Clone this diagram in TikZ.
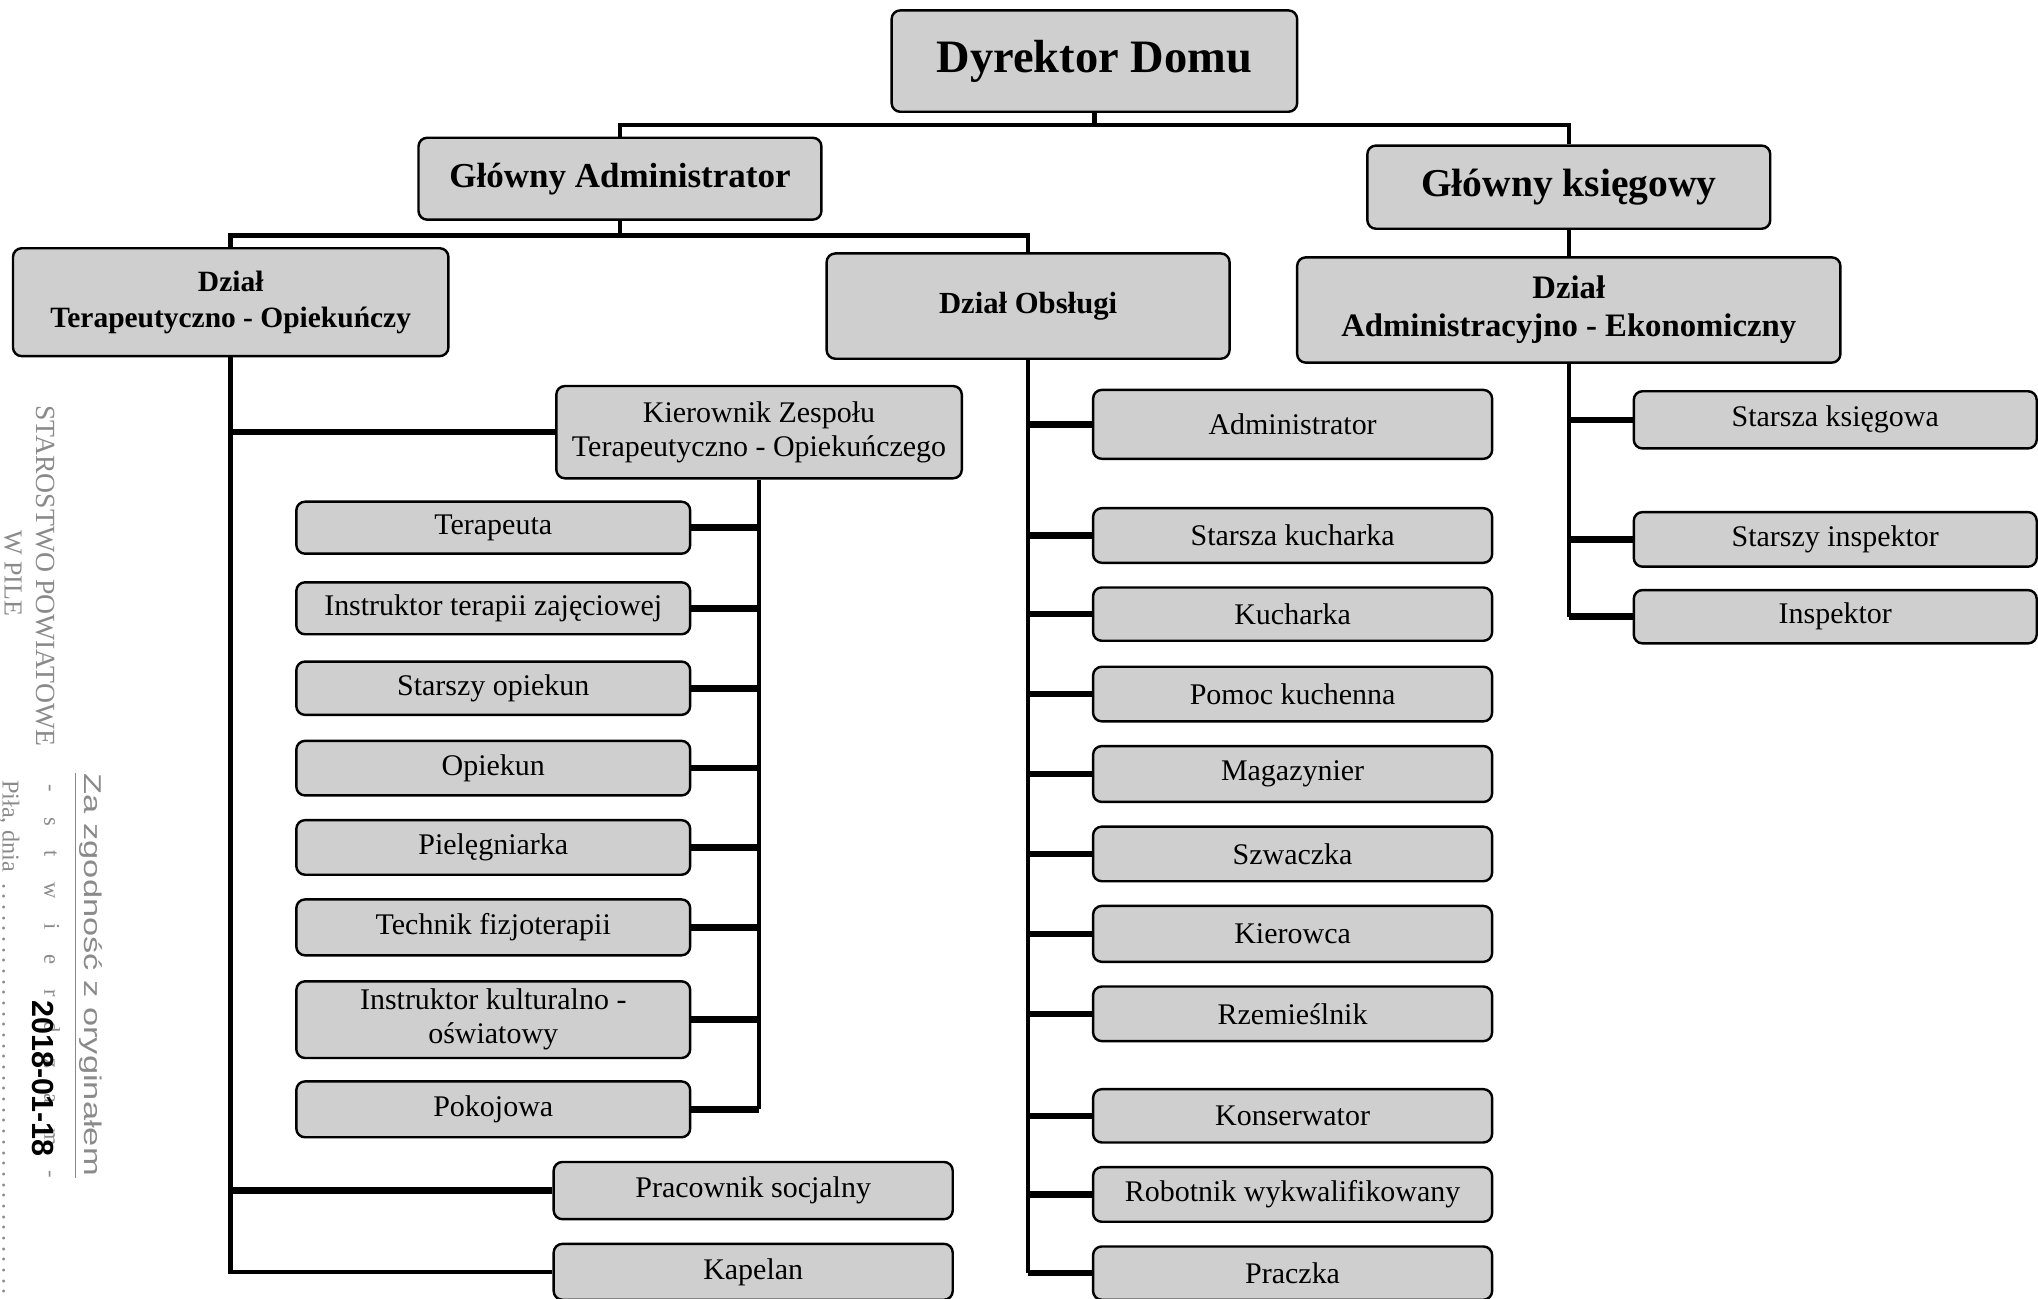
\documentclass[tikz,border=0pt]{standalone}
\usepackage{fontspec}
\setmainfont{Liberation Serif}
\newfontfamily\stampsans{Liberation Sans}
\usepackage{graphicx}
\definecolor{boxgray}{HTML}{CFCFCF}
\definecolor{stampgray}{HTML}{8A8A8A}
\tikzset{
  box/.style={draw=black, line width=1.4pt, rounded corners=5pt, fill=boxgray, align=center, inner sep=0pt},
  wh/.style 2 args={minimum width=#1*0.75pt, minimum height=#2*0.75pt},
  reg/.style={font=\fontsize{17.3}{19.5}\selectfont},
  conn/.style={line width=2.6pt},
  stub/.style={line width=3.8pt},
  stamp/.style={text=stampgray, inner sep=0pt, rotate=-90}
}
\begin{document}
\begin{tikzpicture}[x=0.75pt,y=-0.75pt]
\useasboundingbox (0,0) rectangle (1568,999);

% ---------- top levels ----------
\node[box, wh={312}{78}, font=\fontsize{26.8}{30}\selectfont\bfseries] (dyr) at (842,47) {Dyrektor Domu};
\node[box, wh={310}{63}, font=\fontsize{20.2}{24}\selectfont\bfseries] (ga) at (477,137.5) {Główny Administrator};
\node[box, wh={310}{64}, font=\fontsize{22.8}{26}\selectfont\bfseries] (gk) at (1207,144) {Główny księgowy};

\node[box, wh={335}{83}, font=\fontsize{17}{21}\selectfont\bfseries] (dto) at (177.5,232.5) {Dział\\Terapeutyczno - Opiekuńczy};
\node[box, wh={310}{81}, font=\fontsize{17.7}{21}\selectfont\bfseries] (dob) at (791,235.5) {Dział Obsługi};
\node[box, wh={418}{81}, font=\fontsize{18.9}{22}\selectfont\bfseries] (dae) at (1207,238.5) {Dział\\Administracyjno - Ekonomiczny};

% ---------- left branch ----------
\node[box, reg, wh={312}{71}] (kzt) at (584,332.5) {Kierownik Zespołu\\Terapeutyczno - Opiekuńczego};
\node[box, reg, wh={303}{40}] (ter) at (379.5,406) {Terapeuta};
\node[box, reg, wh={303}{40}] (itz) at (379.5,468) {Instruktor terapii zajęciowej};
\node[box, reg, wh={303}{41}] (sop) at (379.5,529.5) {Starszy opiekun};
\node[box, reg, wh={303}{42}] (opi) at (379.5,591) {Opiekun};
\node[box, reg, wh={303}{42}] (pie) at (379.5,652) {Pielęgniarka};
\node[box, reg, wh={303}{43}] (tec) at (379.5,713.5) {Technik fizjoterapii};
\node[box, reg, wh={303}{59}] (ikk) at (379.5,784.5) {Instruktor kulturalno -\\oświatowy};
\node[box, reg, wh={303}{43}] (pok) at (379.5,853.5) {Pokojowa};
\node[box, reg, wh={307}{44}] (prs) at (579.5,916) {Pracownik socjalny};
\node[box, reg, wh={307}{43}] (kap) at (579.5,978.5) {Kapelan};

% ---------- middle branch ----------
\node[box, reg, wh={307}{53}] (adm) at (994.5,326.5) {Administrator};
\node[box, reg, wh={307}{42}] (skk) at (994.5,412) {Starsza kucharka};
\node[box, reg, wh={307}{41}] (kuc) at (994.5,472.5) {Kucharka};
\node[box, reg, wh={307}{42}] (pom) at (994.5,534) {Pomoc kuchenna};
\node[box, reg, wh={307}{43}] (mag) at (994.5,595.5) {Magazynier};
\node[box, reg, wh={307}{42}] (szw) at (994.5,657) {Szwaczka};
\node[box, reg, wh={307}{43}] (kie) at (994.5,718.5) {Kierowca};
\node[box, reg, wh={307}{42}] (rze) at (994.5,780) {Rzemieślnik};
\node[box, reg, wh={307}{41}] (kon) at (994.5,858.5) {Konserwator};
\node[box, reg, wh={307}{42}] (rob) at (994.5,919) {Robotnik wykwalifikowany};
\node[box, reg, wh={307}{41}] (prc) at (994.5,979.5) {Praczka};

% ---------- right branch ----------
\node[box, reg, wh={310}{44}] (sks) at (1412,323) {Starsza księgowa};
\node[box, reg, wh={310}{42}] (sin) at (1412,415) {Starszy inspektor};
\node[box, reg, wh={310}{41}] (ins) at (1412,474.5) {Inspektor};

% ---------- connectors ----------
\coordinate (jt) at (842,96);
\coordinate (ja) at (477,181);
\draw[conn] (dyr.south) -- (dyr.south |- jt);
\draw[conn] (ga.north) -- (ga.north |- jt) -- (gk.north |- jt) -- (gk.north);
\draw[conn] (ga.south) -- (ga.south |- ja);
\draw[conn] (dto.north) -- (dto.north |- ja) -- (dob.north |- ja) -- (dob.north);
\draw[conn] (gk.south) -- (dae.north);

% left spine
\draw[conn] (dto.south) -- (dto.south |- kap.west) -- (kap.west);
\draw[stub] (kzt.west) -- (kzt.west -| dto.south);
\draw[stub] (prs.west) -- (prs.west -| dto.south);

% team leader spine
\draw[conn] (kzt.south) -- (kzt.south |- pok.east);
\foreach \n in {ter,itz,sop,opi,pie,tec,ikk,pok}
  \draw[stub] (\n.east) -- (\n.east -| kzt.south);

% service spine
\draw[conn] (dob.south) -- (dob.south |- prc.west);
\foreach \n in {adm,skk,kuc,pom,mag,szw,kie,rze,kon,rob,prc}
  \draw[stub] (\n.west) -- (\n.west -| dob.south);

% accounting spine
\draw[conn] (dae.south) -- (dae.south |- ins.west);
\foreach \n in {sks,sin,ins}
  \draw[stub] (\n.west) -- (\n.west -| dae.south);

% ---------- stamp ----------
\node[stamp, font=\fontsize{16}{16}\selectfont] (st1) at (35,443) {STAROSTWO POWIATOWE};
\node[stamp, font=\fontsize{15}{15}\selectfont] (st2) at (10,441) {W PILE};
\node[stamp, font=\stampsans\fontsize{14}{14}\selectfont] (st3) at (70,750) {\scalebox{1.42}[1]{Za zgodność z oryginałem}};
\draw[stampgray, line width=0.6pt] (58,595) -- (58,906);
\node[stamp, font=\fontsize{13}{13}\selectfont] (st4) at (40,755) {\makebox[227pt]{-\hfill s\hfill t\hfill w\hfill i\hfill e\hfill r\hfill d\hfill z\hfill a\hfill m\hfill -}};
\node[stamp, anchor=west, font=\fontsize{14}{14}\selectfont] (st5) at (7,600) {\makebox[300pt][l]{Piła, dnia \dotfill}};
\node[stamp, text=black, font=\stampsans\bfseries] (st6) at (33,830) {\resizebox{90pt}{!}{2018-01-18}};
\end{tikzpicture}
\end{document}
